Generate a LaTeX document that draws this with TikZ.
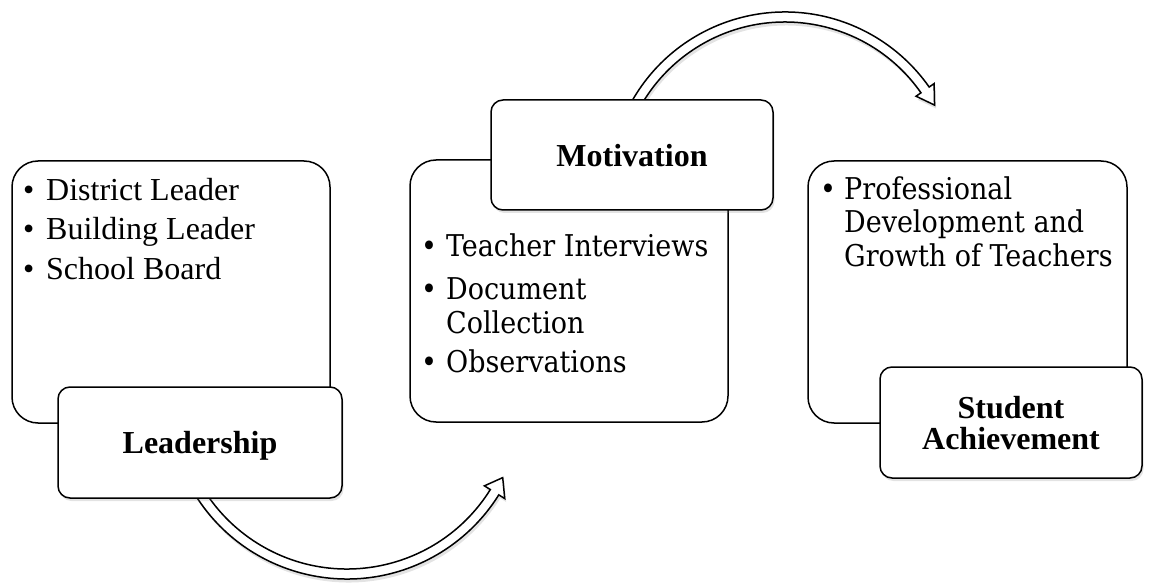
\documentclass[tikz,border=0pt]{standalone}
\usepackage{fontspec}
\setmainfont{Liberation Serif}
\newfontfamily\cambria{DejaVu Serif Condensed}
\usetikzlibrary{shadows}
\tikzset{
  bigbox/.style={draw=black, line width=1.5pt, rounded corners=26pt, fill=white, inner sep=0pt},
  labelbox/.style={draw=black, line width=1.5pt, rounded corners=12pt, fill=white,
    align=center, font=\fontsize{32}{31}\selectfont\bfseries, text depth=0pt,
    drop shadow={shadow xshift=1.5pt, shadow yshift=-3pt, opacity=0.22}},
  hollowarrow/.style={draw=black, line width=1.5pt, fill=white, line join=miter,
    drop shadow={shadow xshift=1.5pt, shadow yshift=-3.5pt, opacity=0.22}},
  tnr/.style={anchor=base west, inner sep=0pt, font=\fontsize{32}{38}\selectfont},
  cam/.style={anchor=base west, inner sep=0pt, font=\cambria\fontsize{30}{33}\selectfont},
}
\begin{document}
\begin{tikzpicture}[x=1pt,y=-1pt]
\useasboundingbox (0,0) rectangle (1154,588);

% large content boxes
\node[bigbox, minimum width=318pt, minimum height=262pt] (lbox) at (171,292) {};
\node[bigbox, minimum width=318pt, minimum height=262pt] (mbox) at (569,291) {};
\node[bigbox, minimum width=319pt, minimum height=262pt] (rbox) at (967.5,292) {};

% left items
\node[tnr] (lb1) at (23,201) {•};
\node[tnr] (lt1) at (46,201) {District Leader};
\node[tnr] (lb2) at (23,240) {•};
\node[tnr] (lt2) at (46,240) {Building Leader};
\node[tnr] (lb3) at (23,279) {•};
\node[tnr] (lt3) at (46,279) {School Board};

% middle items
\node[cam] (mb1) at (421,257) {•};
\node[cam] (mt1) at (446,257) {Teacher Interviews};
\node[cam] (mb2) at (421,299) {•};
\node[cam] (mt2) at (446,299) {Document};
\node[cam] (mt2b) at (446,333) {Collection};
\node[cam] (mb3) at (421,372) {•};
\node[cam] (mt3) at (446,372) {Observations};

% right items
\node[cam] (rb1) at (820,200) {•};
\node[cam] (rt1) at (844,200) {Professional};
\node[cam] (rt1b) at (844,233) {Development and};
\node[cam] (rt1c) at (844,266) {Growth of Teachers};

% curved hollow arrows
\draw[hollowarrow, shift={(347,400)}]
  (150:179) arc[start angle=150, end angle=32, radius=179]
  -- (32:186) -- (26.5:174) -- (32:162) -- (32:169)
  arc[start angle=32, end angle=150, radius=169] -- cycle;
\draw[hollowarrow, shift={(785,188)}]
  (-152:176) arc[start angle=-152, end angle=-35, radius=176]
  -- (-35:182) -- (-29:171) -- (-35:160) -- (-35:166)
  arc[start angle=-35, end angle=-152, radius=166] -- cycle;

% label boxes
\node[labelbox, minimum width=284pt, minimum height=111pt] (lead) at (200,442.5) {Leadership};
\node[labelbox, minimum width=282pt, minimum height=110pt] (moti) at (632,155) {Motivation};
\node[labelbox, minimum width=262pt, minimum height=111pt] (stud) at (1011,422.5) {Student\\Achievement};
\end{tikzpicture}
\end{document}
